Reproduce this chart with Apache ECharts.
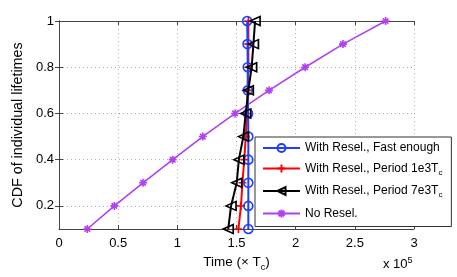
<!DOCTYPE html>
<html>
<head>
<meta charset="utf-8">
<script src="https://cdn.jsdelivr.net/npm/echarts@6/dist/echarts.min.js"></script>
<style>
html,body{margin:0;padding:0;background:#fff;}
#chart{width:457px;height:277px;}
</style>
</head>
<body>
<div id="chart"></div>
<script>
// CDF levels (y)
var cdfLevels = [0.1, 0.2, 0.3, 0.4, 0.5, 0.6, 0.7, 0.8, 0.9, 1.0];
// Times in units of 1e5 Tc (x)
var fastEnough = [1.600, 1.600, 1.600, 1.600, 1.600, 1.598, 1.595, 1.595, 1.593, 1.590];
var period1e3  = [1.516, 1.538, 1.550, 1.566, 1.578, 1.590, 1.595, 1.600, 1.600, 1.600];
var period7e3  = [1.430, 1.454, 1.502, 1.520, 1.558, 1.578, 1.600, 1.628, 1.643, 1.657];
var noResel    = [0.239, 0.468, 0.710, 0.961, 1.215, 1.488, 1.775, 2.080, 2.400, 2.760];
var seriesNames = ['With Resel., Fast enough', 'With Resel., Period 1e3Tc', 'With Resel., Period 7e3Tc', 'No Resel.'];
var legendLabels = ['With Resel., Fast enough', 'With Resel., Period 1e3T{sub|c}', 'With Resel., Period 7e3T{sub|c}', 'No Resel.'];
var xTicks = [0, 0.5, 1, 1.5, 2, 2.5, 3];
var yTicks = [0.2, 0.4, 0.6, 0.8, 1];

function pairs(xs){ return xs.map(function(x,i){ return [x, cdfLevels[i]]; }); }

var FONT = '"Liberation Sans", Arial, sans-serif';
var plusPath = 'path://M0,-1L0,1M-1,0L1,0';
var starPath = 'path://M0,-1L0,1M-1,0L1,0M-0.7,-0.7L0.7,0.7M-0.7,0.7L0.7,-0.7';
var axisCol = '#444';
var gridLine = {show:true, lineStyle:{color:'#b0b0b0', type:[1,3], width:1}};

var chart = echarts.init(document.getElementById('chart'), null, {renderer:'canvas'});
var option = {
  animation:false,
  backgroundColor:'#fff',
  grid:{left:59, right:43, top:21, bottom:45, containLabel:false},
  xAxis:[{
    type:'value', min:0, max:3, interval:0.5, position:'bottom',
    name:'Time (\u00d7 T{sub|c})', nameLocation:'middle', nameGap:24,
    nameTextStyle:{fontFamily:FONT, fontSize:13.5, color:'#000',
      rich:{sub:{fontFamily:FONT, fontSize:9, color:'#000', verticalAlign:'bottom', padding:[10,0,0,0]}}},
    axisLine:{show:true, lineStyle:{color:axisCol, width:1}},
    axisTick:{show:true, inside:true, length:4, lineStyle:{color:axisCol}},
    axisLabel:{fontFamily:FONT, fontSize:13, color:'#000', margin:8,
      customValues:xTicks, formatter:function(v){ return String(v); }},
    splitLine:gridLine
  },{
    type:'value', min:0, max:3, interval:0.5, position:'top',
    axisLine:{show:true, lineStyle:{color:axisCol, width:1}},
    axisTick:{show:true, inside:true, length:4, lineStyle:{color:axisCol}},
    axisLabel:{show:false}, splitLine:{show:false}
  }],
  yAxis:[{
    type:'value', min:0.1, max:1, position:'left',
    name:'CDF of individual lifetimes', nameLocation:'middle', nameGap:29, nameRotate:90,
    nameTextStyle:{fontFamily:FONT, fontSize:14.3, color:'#000'},
    axisLine:{show:true, lineStyle:{color:axisCol, width:1}},
    axisTick:{show:true, inside:true, length:4, lineStyle:{color:axisCol}, customValues:yTicks},
    axisLabel:{fontFamily:FONT, fontSize:13, color:'#000', margin:5, customValues:yTicks,
      formatter:function(v){ return String(Math.round(v*10)/10); }},
    splitLine:{show:true, customValues:yTicks, lineStyle:{color:'#b0b0b0', type:[1,3], width:1}}
  },{
    type:'value', min:0.1, max:1, position:'right',
    axisLine:{show:true, lineStyle:{color:axisCol, width:1}},
    axisTick:{show:true, inside:true, length:4, lineStyle:{color:axisCol}, customValues:yTicks},
    axisLabel:{show:false, customValues:yTicks}, splitLine:{show:false}
  }],
  legend:{
    orient:'vertical', left:255, top:137,
    backgroundColor:'#fff', borderColor:'#333', borderWidth:1,
    padding:[5,9,7,7], itemGap:8.5, itemWidth:37, itemHeight:10,
    data:seriesNames,
    textStyle:{fontFamily:FONT, fontSize:12, color:'#000',
      rich:{sub:{fontFamily:FONT, fontSize:8, color:'#000', verticalAlign:'bottom', padding:[8,0,0,0]}}},
    formatter:function(name){ return legendLabels[seriesNames.indexOf(name)]; }
  },
  series:[
    {name:seriesNames[0], type:'line', data:pairs(fastEnough), symbol:'circle', symbolSize:9,
      lineStyle:{color:'#1f3fff', width:2}, itemStyle:{color:'rgba(0,0,0,0)', borderColor:'#1f3fff', borderWidth:1.6}, z:3},
    {name:seriesNames[1], type:'line', data:pairs(period1e3), symbol:plusPath, symbolSize:8,
      lineStyle:{color:'#ff0000', width:2}, itemStyle:{color:'rgba(0,0,0,0)', borderColor:'#ff0000', borderWidth:1.6}, z:2},
    {name:seriesNames[2], type:'line', data:pairs(period7e3), symbol:'triangle', symbolRotate:90, symbolSize:[9,10],
      lineStyle:{color:'#000', width:2}, itemStyle:{color:'rgba(0,0,0,0)', borderColor:'#000', borderWidth:1.6}, z:4},
    {name:seriesNames[3], type:'line', data:pairs(noResel), symbol:starPath, symbolSize:8,
      lineStyle:{color:'#b040f0', width:1.6}, itemStyle:{color:'rgba(0,0,0,0)', borderColor:'#b040f0', borderWidth:1.6}, z:1}
  ],
  graphic:[{
    type:'text', left:383, top:256,
    style:{text:'x 10{sup|5}', fontFamily:FONT, fontSize:13, fill:'#000',
      rich:{sup:{fontFamily:FONT, fontSize:9, fill:'#000', verticalAlign:'top', padding:[0,0,8,0]}}}
  }]
};
chart.setOption(option);
</script>
</body>
</html>
